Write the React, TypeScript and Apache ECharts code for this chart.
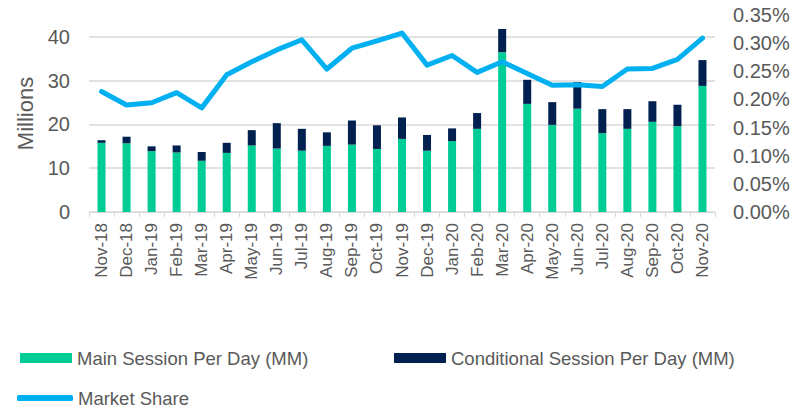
import React, { useEffect, useRef } from "react";
import * as echarts from "echarts";

const categories = [
  "Nov-18", "Dec-18", "Jan-19", "Feb-19", "Mar-19", "Apr-19", "May-19", "Jun-19", "Jul-19",
  "Aug-19", "Sep-19", "Oct-19", "Nov-19", "Dec-19", "Jan-20", "Feb-20", "Mar-20", "Apr-20",
  "May-20", "Jun-20", "Jul-20", "Aug-20", "Sep-20", "Oct-20", "Nov-20",
];

const mainSession = [
  15.8, 15.7, 13.9, 13.6, 11.7, 13.5, 15.2, 14.5, 14.0, 15.1, 15.4, 14.4, 16.7,
  14.0, 16.2, 19.0, 36.5, 24.7, 19.9, 23.6, 18.0, 19.0, 20.6, 19.6, 28.8,
];

const conditionalSession = [
  0.6, 1.5, 1.1, 1.6, 2.0, 2.3, 3.5, 5.8, 5.0, 3.1, 5.5, 5.4, 4.9,
  3.6, 2.9, 3.6, 5.3, 5.5, 5.2, 6.1, 5.5, 4.5, 4.7, 4.9, 5.9,
];

// market share in percent
const marketShare = [
  0.214, 0.190, 0.194, 0.212, 0.185, 0.244, 0.267, 0.288, 0.306, 0.254, 0.291, 0.304, 0.318,
  0.261, 0.278, 0.248, 0.267, 0.246, 0.225, 0.226, 0.223, 0.254, 0.255, 0.271, 0.309,
];

const seriesNames = ["Main Session Per Day (MM)", "Conditional Session Per Day (MM)", "Market Share"];
const seriesColors = ["#00CC96", "#002050", "#00B0F0"];

const TEXT = "#595959";
const GRID = "#d9d9d9";
const FONT = "'Liberation Sans', Arial, sans-serif";

export default function App() {
  const ref = useRef<HTMLDivElement>(null);
  useEffect(() => {
    if (!ref.current) return;
    const chart = echarts.init(ref.current, undefined, { renderer: "svg" });
    const legendText = { color: TEXT, fontSize: 18.5, fontFamily: FONT, lineHeight: 20 };
    chart.setOption({
      animation: false,
      grid: { left: 89, right: 88, top: 15, bottom: 198, containLabel: false },
      legend: [
        {
          data: [seriesNames[0]], left: 15, top: 343, padding: 5,
          itemWidth: 52, itemHeight: 10, icon: "rect", textStyle: legendText,
        },
        {
          data: [seriesNames[1]], left: 389, top: 343, padding: 5,
          itemWidth: 52, itemHeight: 10, icon: "rect", textStyle: legendText,
        },
        {
          data: [seriesNames[2]], left: 12, top: 383, padding: 5,
          itemWidth: 56, itemHeight: 6, icon: "roundRect", textStyle: legendText,
        },
      ],
      xAxis: {
        type: "category",
        data: categories,
        axisLine: { lineStyle: { color: GRID, width: 1 } },
        axisTick: { show: true, length: 5, lineStyle: { color: GRID } },
        axisLabel: {
          rotate: 90, color: TEXT, fontSize: 17, fontFamily: FONT, margin: 11, interval: 0,
        },
      },
      yAxis: [
        {
          type: "value",
          min: 0, max: 45, interval: 10,
          name: "Millions",
          nameLocation: "middle",
          nameGap: 52,
          nameRotate: 90,
          nameTextStyle: { color: TEXT, fontSize: 22, fontFamily: FONT },
          axisLine: { show: false },
          axisTick: { show: false },
          axisLabel: { color: TEXT, fontSize: 20, fontFamily: FONT, margin: 19, showMaxLabel: false },
          splitLine: { show: true, showMaxLine: false, lineStyle: { color: GRID, width: 1.5 } },
        },
        {
          type: "value",
          min: 0, max: 0.35, interval: 0.05,
          position: "right",
          axisLine: { show: false },
          axisTick: { show: false },
          splitLine: { show: false },
          axisLabel: {
            color: TEXT, fontSize: 20, fontFamily: FONT, margin: 18,
            formatter: (v: number) => v.toFixed(2) + "%",
          },
        },
      ],
      series: [
        {
          name: seriesNames[0],
          type: "bar",
          stack: "s",
          barWidth: 8,
          itemStyle: { color: seriesColors[0] },
          data: mainSession,
        },
        {
          name: seriesNames[1],
          type: "bar",
          stack: "s",
          barWidth: 8,
          itemStyle: { color: seriesColors[1] },
          data: conditionalSession,
        },
        {
          name: seriesNames[2],
          type: "line",
          yAxisIndex: 1,
          symbol: "none",
          lineStyle: { color: seriesColors[2], width: 5, cap: "round", join: "round" },
          itemStyle: { color: seriesColors[2] },
          data: marketShare,
        },
      ],
    });
    return () => chart.dispose();
  }, []);
  return (
    <div
      ref={ref}
      style={{ position: "fixed", left: 0, top: 0, width: 803, height: 410, background: "#fff" }}
    />
  );
}
